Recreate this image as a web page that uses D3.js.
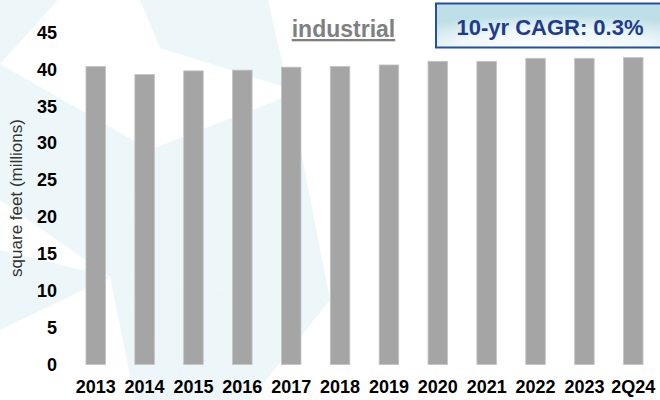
<!DOCTYPE html>
<html>
<head>
<meta charset="utf-8">
<script src="https://cdn.jsdelivr.net/npm/d3@7"></script>
<style>
  body { margin: 0; background: #ffffff; }
  svg { display: block; }
</style>
</head>
<body>
<svg id="chart" width="660" height="400"></svg>
<script>
// Industrial inventory, square feet (millions)
const categories = ["2013", "2014", "2015", "2016", "2017", "2018", "2019", "2020", "2021", "2022", "2023", "2Q24"];
const sqftMillions = [40.4, 39.3, 39.8, 39.9, 40.3, 40.4, 40.6, 41.1, 41.1, 41.5, 41.5, 41.6];
const yTicks = [0, 5, 10, 15, 20, 25, 30, 35, 40, 45];
const chartTitle = "industrial";
const cagrLabel = "10-yr CAGR: 0.3%";
const yAxisTitle = "square feet (millions)";

const FONT = "'Liberation Sans', Arial, Helvetica, sans-serif";

const svg = d3.select("#chart");

// soft decorative backdrop shapes
const backdrop = [
  [[0, 0], [58, 0], [0, 64]],
  [[140, 0], [268, 0], [288, 88], [160, 48]],
  [[0, 64], [150, 150], [110, 277], [0, 200]],
  [[150, 150], [290, 95], [330, 300], [110, 277]],
  [[0, 250], [110, 277], [0, 330]],
  [[110, 277], [200, 400], [135, 400]],
  [[110, 277], [330, 300], [250, 400], [200, 400]]
];
svg.append("g")
  .selectAll("polygon")
  .data(backdrop)
  .join("polygon")
  .attr("points", d => d.map(p => p.join(",")).join(" "))
  .attr("fill", "#edf6f8");

// scales
const x = d3.scaleBand()
  .domain(categories)
  .range([71.3, 657.7])
  .paddingInner(0.6)
  .paddingOuter(0.3);

const y = d3.scaleLinear()
  .domain([0, 45])
  .range([364.5, 32.5]);

// bars
svg.append("g")
  .selectAll("rect")
  .data(categories.map((c, i) => ({ c, v: sqftMillions[i] })))
  .join("rect")
  .attr("x", d => x(d.c))
  .attr("width", x.bandwidth())
  .attr("y", d => y(d.v))
  .attr("height", d => y(0) - y(d.v))
  .attr("fill", "#a5a5a5")
  .attr("stroke", "#c4c4c4")
  .attr("stroke-width", 0.8);

// y axis
const yAxis = svg.append("g")
  .attr("transform", "translate(71,0)")
  .call(d3.axisLeft(y).tickValues(yTicks).tickSize(0).tickPadding(14));
yAxis.select(".domain").remove();
yAxis.selectAll("text")
  .attr("font-family", FONT)
  .attr("font-size", 18)
  .attr("font-weight", "bold")
  .attr("fill", "#000");

// x axis
const xAxis = svg.append("g")
  .attr("transform", `translate(0,${y(0)})`)
  .call(d3.axisBottom(x).tickSize(0).tickPadding(15.5));
xAxis.select(".domain").remove();
xAxis.selectAll("text")
  .attr("font-family", FONT)
  .attr("font-size", 18)
  .attr("font-weight", "bold")
  .attr("fill", "#000");

// y axis title
svg.append("text")
  .attr("transform", "translate(22,198) rotate(-90)")
  .attr("text-anchor", "middle")
  .attr("font-family", FONT)
  .attr("font-size", 17)
  .attr("fill", "#333")
  .text(yAxisTitle);

// chart title
svg.append("text")
  .attr("x", 343.5)
  .attr("y", 37)
  .attr("text-anchor", "middle")
  .attr("font-family", FONT)
  .attr("font-size", 23)
  .attr("font-weight", "bold")
  .attr("fill", "#7f7f7f")
  .style("text-decoration", "underline")
  .text(chartTitle);

// CAGR callout
const defs = svg.append("defs");
const grad = defs.append("radialGradient")
  .attr("id", "cagrFill")
  .attr("cx", "50%").attr("cy", "100%")
  .attr("r", "75%");
grad.append("stop").attr("offset", "0%").attr("stop-color", "#ffffff");
grad.append("stop").attr("offset", "55%").attr("stop-color", "#eef7f9");
grad.append("stop").attr("offset", "100%").attr("stop-color", "#bfdfe7");

svg.append("rect")
  .attr("x", 436)
  .attr("y", 3.5)
  .attr("width", 236)
  .attr("height", 44)
  .attr("fill", "url(#cagrFill)")
  .attr("stroke", "#23509f")
  .attr("stroke-width", 2);

svg.append("text")
  .attr("x", 550)
  .attr("y", 34.7)
  .attr("text-anchor", "middle")
  .attr("font-family", FONT)
  .attr("font-size", 22)
  .attr("font-weight", "bold")
  .attr("fill", "#1f3c8c")
  .text(cagrLabel);
</script>
</body>
</html>
